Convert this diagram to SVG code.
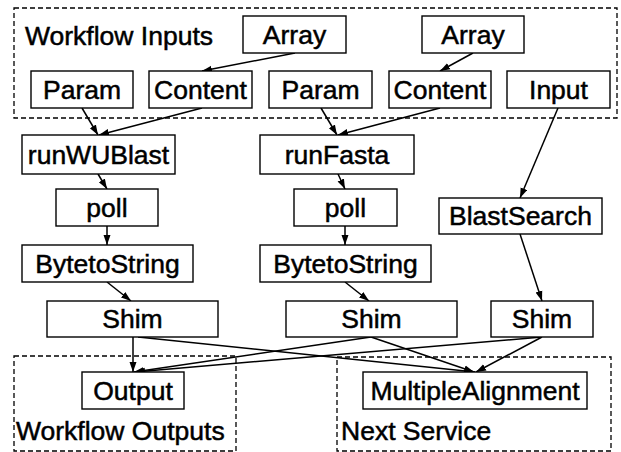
<svg xmlns="http://www.w3.org/2000/svg" width="621" height="452" viewBox="0 0 621 452">
  <defs>
    <marker id="ah" markerWidth="10" markerHeight="8" refX="10" refY="4" orient="auto" markerUnits="userSpaceOnUse">
      <path d="M0,0.5 L10,4 L0,7.5 Z" fill="#000"/>
    </marker>
    <style>
      .box { fill: #fff; stroke: #000; stroke-width: 1.4; }
      .grp { fill: none; stroke: #000; stroke-width: 1.3; stroke-dasharray: 5 3; }
      .lbl { font-family: "Liberation Sans", Arial, sans-serif; font-size: 26.5px; fill: #000; stroke: #000; stroke-width: 0.5; text-anchor: middle; }
      .glbl { font-family: "Liberation Sans", Arial, sans-serif; font-size: 26.5px; fill: #000; stroke: #000; stroke-width: 0.5; }
      .edge { fill: none; stroke: #000; stroke-width: 1.5; marker-end: url(#ah); }
    </style>
  </defs>
  <rect width="621" height="452" fill="#fff"/>

  <!-- group frames -->
  <g id="workflow-inputs">
    <rect class="grp" x="14" y="8" width="603" height="110"/>
    <text class="glbl" x="25" y="45">Workflow Inputs</text>
  </g>
  <g id="workflow-outputs">
    <rect class="grp" x="14" y="356" width="222" height="95"/>
    <text class="glbl" x="16" y="440">Workflow Outputs</text>
  </g>
  <g id="next-service">
    <rect class="grp" x="337" y="357" width="274" height="94"/>
    <text class="glbl" x="341" y="440">Next Service</text>
  </g>

  <!-- connectors -->
  <g id="connectors">
    <line class="edge" x1="295" y1="53" x2="202" y2="71"/>
    <line class="edge" x1="473" y1="53" x2="440" y2="71"/>
    <line class="edge" x1="82" y1="108" x2="98" y2="135"/>
    <line class="edge" x1="202" y1="108" x2="99" y2="135"/>
    <line class="edge" x1="321" y1="108" x2="337" y2="135"/>
    <line class="edge" x1="440" y1="108" x2="338" y2="135"/>
    <line class="edge" x1="558" y1="108" x2="520" y2="198"/>
    <line class="edge" x1="98" y1="174" x2="107" y2="189"/>
    <line class="edge" x1="107" y1="226" x2="107" y2="245"/>
    <line class="edge" x1="338" y1="174" x2="345" y2="189"/>
    <line class="edge" x1="345" y1="226" x2="345" y2="245"/>
    <line class="edge" x1="107" y1="282" x2="131" y2="301"/>
    <line class="edge" x1="345" y1="282" x2="369" y2="301"/>
    <line class="edge" x1="520" y1="234" x2="542" y2="301"/>
    <line class="edge" x1="133" y1="337" x2="133" y2="372"/>
    <line class="edge" x1="138" y1="337" x2="475" y2="372"/>
    <line class="edge" x1="371" y1="337" x2="134" y2="372"/>
    <line class="edge" x1="371" y1="337" x2="474" y2="372"/>
    <line class="edge" x1="542" y1="337" x2="135" y2="372"/>
    <line class="edge" x1="542" y1="337" x2="476" y2="372"/>
  </g>

  <!-- nodes -->
  <g id="array1"><rect class="box" x="243" y="16" width="103" height="37"/><text class="lbl" x="294.5" y="44">Array</text></g>
  <g id="array2"><rect class="box" x="422" y="16" width="102" height="37"/><text class="lbl" x="473" y="44">Array</text></g>
  <g id="param1"><rect class="box" x="31" y="71" width="102" height="37"/><text class="lbl" x="82" y="99">Param</text></g>
  <g id="content1"><rect class="box" x="149" y="71" width="103" height="37"/><text class="lbl" x="200.5" y="99">Content</text></g>
  <g id="param2"><rect class="box" x="269" y="71" width="103" height="37"/><text class="lbl" x="320.5" y="99">Param</text></g>
  <g id="content2"><rect class="box" x="389" y="71" width="102" height="37"/><text class="lbl" x="440" y="99">Content</text></g>
  <g id="input"><rect class="box" x="507" y="71" width="103" height="37"/><text class="lbl" x="558.5" y="99">Input</text></g>

  <g id="runWUBlast"><rect class="box" x="22" y="135" width="153" height="39"/><text class="lbl" x="98.5" y="164">runWUBlast</text></g>
  <g id="runFasta"><rect class="box" x="260" y="135" width="154" height="39"/><text class="lbl" x="337" y="164">runFasta</text></g>
  <g id="poll1"><rect class="box" x="56" y="189" width="102" height="37"/><text class="lbl" x="107" y="217">poll</text></g>
  <g id="poll2"><rect class="box" x="294" y="189" width="103" height="37"/><text class="lbl" x="345.5" y="217">poll</text></g>
  <g id="blastSearch"><rect class="box" x="439" y="198" width="163" height="36"/><text class="lbl" x="520.5" y="225">BlastSearch</text></g>
  <g id="bytetoString1"><rect class="box" x="22" y="245" width="171" height="37"/><text class="lbl" x="107.5" y="273">BytetoString</text></g>
  <g id="bytetoString2"><rect class="box" x="260" y="245" width="171" height="37"/><text class="lbl" x="345.5" y="273">BytetoString</text></g>

  <g id="shim1"><rect class="box" x="47" y="301" width="171" height="36"/><text class="lbl" x="132.5" y="328">Shim</text></g>
  <g id="shim2"><rect class="box" x="286" y="301" width="171" height="36"/><text class="lbl" x="371.5" y="328">Shim</text></g>
  <g id="shim3"><rect class="box" x="491" y="301" width="102" height="36"/><text class="lbl" x="542" y="328">Shim</text></g>

  <g id="output"><rect class="box" x="82" y="372" width="102" height="37"/><text class="lbl" x="133" y="400">Output</text></g>
  <g id="multipleAlignment"><rect class="box" x="363" y="372" width="224" height="37"/><text class="lbl" x="475" y="400">MultipleAlignment</text></g>
</svg>
